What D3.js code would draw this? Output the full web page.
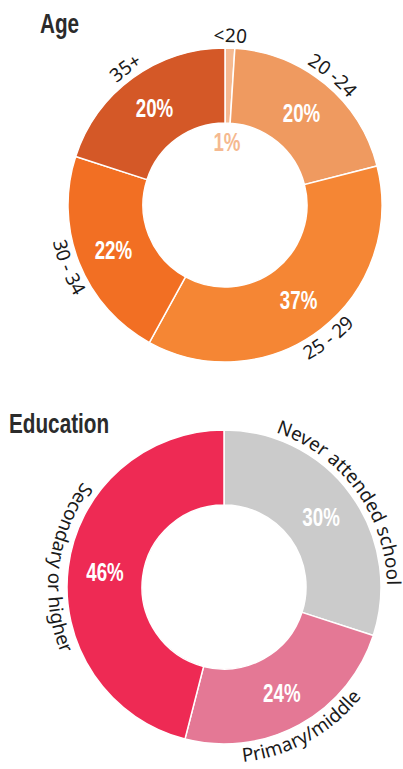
<!DOCTYPE html>
<html>
<head>
  <meta charset="utf-8">
  <script src="https://d3js.org/d3.v7.min.js"></script>
  <style>
    body { margin: 0; background: #fff; }
    .title { font-family: "Liberation Sans", Arial, sans-serif; font-weight: bold; font-size: 28px; fill: #2b2b2b; }
    .pct { font-family: "Liberation Sans", Arial, sans-serif; font-weight: bold; font-size: 26px; }
    .cat { font-family: "Noto Sans", sans-serif; font-size: 19px; fill: #1a1a1a; }
    .slice { stroke: #fff; stroke-width: 1.5px; }
  </style>
</head>
<body>
  <script>
    // Age breakdown
    const ageCategories = ["<20", "20 -24", "25 - 29", "30 - 34", "35+"];
    const ageValues = [1, 20, 37, 22, 20];
    const ageColors = ["#f5b990", "#ef9a60", "#f58634", "#f26f23", "#d45827"];

    // Education breakdown
    const eduCategories = ["Never attended school", "Primary/middle", "Secondary or higher"];
    const eduValues = [30, 24, 46];
    const eduColors = ["#cbcbcb", "#e47895", "#ee2a54"];

    const width = 403, height = 769;
    const outerR = 157, innerR = 82;

    const svg = d3.select("body").append("svg")
      .attr("width", width)
      .attr("height", height);

    const defs = svg.append("defs");
    let pathId = 0;

    function donut(title, titleX, titleY, cx, cy, cats, vals, colors) {
      svg.append("text")
        .attr("class", "title")
        .attr("transform", `translate(${titleX},${titleY}) scale(0.74,1)`)
        .text(title);

      const pie = d3.pie().sort(null).value(d => d.value);
      const arcs = pie(cats.map((c, i) => ({ name: c, value: vals[i], color: colors[i] })));
      const arc = d3.arc().innerRadius(innerR).outerRadius(outerR);
      const labelArc = d3.arc().innerRadius(120).outerRadius(120);

      const g = svg.append("g").attr("transform", `translate(${cx},${cy})`);

      g.selectAll("path.slice")
        .data(arcs)
        .join("path")
        .attr("class", "slice")
        .attr("d", arc)
        .attr("fill", d => d.data.color);

      // percentage labels (tiny slices get theirs inside the hole)
      g.selectAll("text.pct")
        .data(arcs)
        .join("text")
        .attr("class", "pct")
        .attr("transform", d => {
          let p;
          if (d.data.value < 5) {
            const a = (d.startAngle + d.endAngle) / 2;
            p = [Math.sin(a) * (innerR - 19), -Math.cos(a) * (innerR - 19)];
          } else {
            p = labelArc.centroid(d);
          }
          return `translate(${p[0]},${p[1]}) scale(0.72,1)`;
        })
        .attr("text-anchor", "middle")
        .attr("dy", "0.36em")
        .attr("fill", d => d.data.value < 5 ? d.data.color : "#fff")
        .text(d => d.data.value + "%");

      // category labels curved along the ring
      const lg = svg.append("g").attr("transform", `translate(${cx},${cy})`);
      arcs.forEach(d => {
        const mid = (d.startAngle + d.endAngle) / 2;
        const deg = mid * 180 / Math.PI;
        const flip = deg > 90 && deg < 300;
        const r = flip ? 176 : 163;
        const span = 80 * Math.PI / 180;
        const a0 = flip ? mid + span : mid - span;
        const a1 = flip ? mid - span : mid + span;
        const x0 = Math.sin(a0) * r, y0 = -Math.cos(a0) * r;
        const x1 = Math.sin(a1) * r, y1 = -Math.cos(a1) * r;
        const id = "lp" + (pathId++);
        defs.append("path")
          .attr("id", id)
          .attr("d", `M${x0},${y0} A${r},${r} 0 0 ${flip ? 0 : 1} ${x1},${y1}`);
        lg.append("text")
          .attr("class", "cat")
          .append("textPath")
          .attr("href", "#" + id)
          .attr("startOffset", "50%")
          .attr("text-anchor", "middle")
          .text(d.data.name);
      });
    }

    donut("Age", 40, 33, 225, 205, ageCategories, ageValues, ageColors);
    donut("Education", 9, 433, 224, 587, eduCategories, eduValues, eduColors);
  </script>
</body>
</html>
